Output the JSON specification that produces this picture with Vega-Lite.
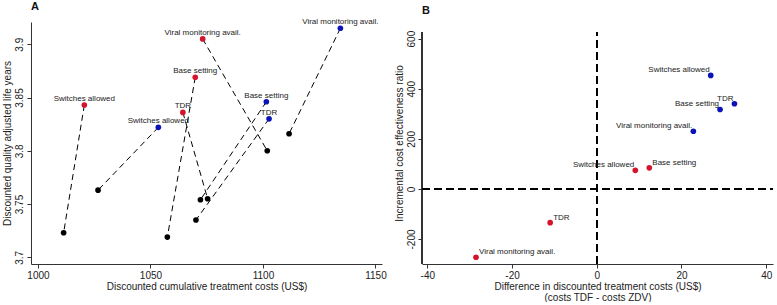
{
  "$schema": "https://vega.github.io/schema/vega-lite/v6.json",
  "background": "white",
  "padding": {"left": 2, "top": 1, "right": 0, "bottom": 0},
  "spacing": 7,
  "config": {
    "font": "Liberation Sans",
    "view": {"stroke": null},
    "axis": {
      "grid": false,
      "domainColor": "#333",
      "tickColor": "#333",
      "tickSize": 4,
      "labelFont": "Liberation Sans",
      "labelFontSize": 10,
      "labelColor": "#222",
      "titleFont": "Liberation Sans",
      "titleFontSize": 10,
      "titleFontWeight": "normal",
      "titleColor": "#222",
      "labelPadding": 2
    },
    "title": {"anchor": "start", "frame": "group", "fontSize": 11, "fontWeight": "bold", "color": "#111", "offset": 6}
  },
  "datasets": {
    "pairs": [
      {"grp": "Group 1", "scenario": "Switches allowed", "cost_tdf": 1020.6, "qaly_tdf": 3.843, "cost_zdv": 1011.4, "qaly_zdv": 3.723},
      {"grp": "Group 1", "scenario": "TDR", "cost_tdf": 1064.4, "qaly_tdf": 3.836, "cost_zdv": 1075.4, "qaly_zdv": 3.755},
      {"grp": "Group 1", "scenario": "Base setting", "cost_tdf": 1069.9, "qaly_tdf": 3.869, "cost_zdv": 1057.5, "qaly_zdv": 3.719},
      {"grp": "Group 1", "scenario": "Viral monitoring avail.", "cost_tdf": 1073.2, "qaly_tdf": 3.905, "cost_zdv": 1101.9, "qaly_zdv": 3.800},
      {"grp": "Group 2", "scenario": "Switches allowed", "cost_tdf": 1053.5, "qaly_tdf": 3.822, "cost_zdv": 1026.7, "qaly_zdv": 3.763},
      {"grp": "Group 2", "scenario": "Base setting", "cost_tdf": 1101.5, "qaly_tdf": 3.846, "cost_zdv": 1072.2, "qaly_zdv": 3.754},
      {"grp": "Group 2", "scenario": "TDR", "cost_tdf": 1102.7, "qaly_tdf": 3.830, "cost_zdv": 1070.2, "qaly_zdv": 3.735},
      {"grp": "Group 2", "scenario": "Viral monitoring avail.", "cost_tdf": 1134.4, "qaly_tdf": 3.915, "cost_zdv": 1111.6, "qaly_zdv": 3.816}
    ],
    "icer": [
      {"grp": "Group 1", "scenario": "Viral monitoring avail.", "dcost": -28.5, "icer": -273},
      {"grp": "Group 1", "scenario": "TDR", "dcost": -11.0, "icer": -135},
      {"grp": "Group 1", "scenario": "Switches allowed", "dcost": 9.1, "icer": 74},
      {"grp": "Group 1", "scenario": "Base setting", "dcost": 12.4, "icer": 84},
      {"grp": "Group 2", "scenario": "Viral monitoring avail.", "dcost": 22.8, "icer": 230},
      {"grp": "Group 2", "scenario": "Base setting", "dcost": 29.1, "icer": 317},
      {"grp": "Group 2", "scenario": "TDR", "dcost": 32.5, "icer": 340},
      {"grp": "Group 2", "scenario": "Switches allowed", "dcost": 26.9, "icer": 453}
    ]
  },
  "hconcat": [
    {
      "title": {"text": "A"},
      "width": 351,
      "height": 242,
      "data": {"name": "pairs"},
      "encoding": {
        "x": {"field": "cost_tdf", "type": "quantitative", "scale": {"domain": [996.9, 1152.9], "nice": false, "zero": false},
              "axis": {"values": [1000, 1050, 1100, 1150], "labelExpr": "datum.value + ''", "title": "Discounted cumulative treatment costs (US$)", "titlePadding": 1}},
        "y": {"field": "qaly_tdf", "type": "quantitative", "scale": {"domain": [3.6937, 3.9209], "nice": false, "zero": false},
              "axis": {"values": [3.7, 3.75, 3.8, 3.85, 3.9], "labelExpr": "datum.value + ''", "labelAngle": -90, "labelAlign": "center", "labelBaseline": "bottom", "labelPadding": 3, "title": "Discounted quality adjusted life years", "titlePadding": 2}}
      },
      "layer": [
        {
          "mark": {"type": "rule", "color": "black", "strokeWidth": 1, "strokeDash": [6, 4]},
          "encoding": {"x2": {"field": "cost_zdv"}, "y2": {"field": "qaly_zdv"}}
        },
        {
          "mark": {"type": "circle", "size": 32, "opacity": 1},
          "encoding": {"x": {"field": "cost_zdv", "type": "quantitative"}, "y": {"field": "qaly_zdv", "type": "quantitative"}, "color": {"value": "black"}}
        },
        {
          "mark": {"type": "circle", "size": 32, "opacity": 1},
          "encoding": {"color": {"field": "grp", "type": "nominal", "scale": {"domain": ["Group 1", "Group 2"], "range": ["#d3142b", "#0b12b8"]}, "legend": null}}
        },
        {
          "mark": {"type": "text", "fontSize": 8, "color": "#222", "align": "center", "baseline": "alphabetic", "dy": -4},
          "encoding": {"text": {"field": "scenario"}}
        }
      ]
    },
    {
      "title": {"text": "B"},
      "width": 351,
      "height": 242,
      "data": {"name": "icer"},
      "encoding": {
        "x": {"field": "dcost", "type": "quantitative", "scale": {"domain": [-41.25, 41.6], "nice": false, "zero": false},
              "axis": {"values": [-40, -20, 0, 20, 40], "labelExpr": "datum.value + ''", "title": ["Difference in discounted treatment costs (US$)", "(costs TDF - costs ZDV)"], "titlePadding": 1, "titleLineHeight": 11}},
        "y": {"field": "icer", "type": "quantitative", "scale": {"domain": [-300, 666.4], "nice": false, "zero": false},
              "axis": {"values": [-200, 0, 200, 400, 600], "labelExpr": "datum.value + ''", "domain": false, "labelAngle": -90, "labelAlign": "center", "labelBaseline": "bottom", "labelPadding": 2, "title": "Incremental cost effectiveness ratio", "titlePadding": 2}}
      },
      "layer": [
        {
          "mark": {"type": "rule", "color": "#333", "strokeWidth": 1},
          "encoding": {"x": {"datum": -41.25}, "y": {"datum": -300}, "y2": {"datum": 626.4}}
        },
        {
          "mark": {"type": "rule", "color": "black", "strokeWidth": 1.2, "strokeDash": [8, 4]},
          "encoding": {"x": {"datum": 0}, "y": {"datum": -300}, "y2": {"datum": 626.4}}
        },
        {
          "mark": {"type": "rule", "color": "black", "strokeWidth": 1.2, "strokeDash": [8, 4]},
          "encoding": {"y": {"datum": 0}, "x": {"datum": -41.25}, "x2": {"datum": 41.6}}
        },
        {
          "mark": {"type": "circle", "size": 32, "opacity": 1},
          "encoding": {"color": {"field": "grp", "type": "nominal", "scale": {"domain": ["Group 1", "Group 2"], "range": ["#d3142b", "#0b12b8"]}, "legend": null}}
        },
        {
          "transform": [{"filter": "datum.grp === 'Group 2' || datum.scenario === 'Switches allowed'"}],
          "mark": {"type": "text", "fontSize": 8, "color": "#222", "align": "right", "baseline": "alphabetic", "dx": -1, "dy": -3},
          "encoding": {"text": {"field": "scenario"}}
        },
        {
          "transform": [{"filter": "datum.grp === 'Group 1' && datum.scenario !== 'Switches allowed'"}],
          "mark": {"type": "text", "fontSize": 8, "color": "#222", "align": "left", "baseline": "alphabetic", "dx": 3, "dy": -3},
          "encoding": {"text": {"field": "scenario"}}
        }
      ]
    }
  ]
}
